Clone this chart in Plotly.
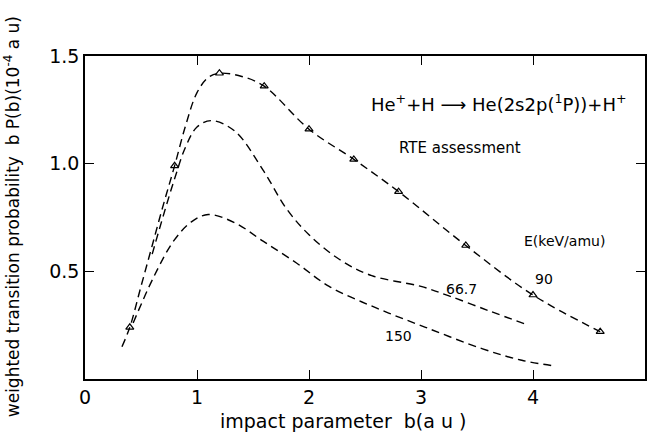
import plotly.graph_objects as go

# ---- data ----
# 90 keV/amu: RTE points (triangles) and the dashed curve through them
b90_pts = [0.4, 0.8, 1.2, 1.6, 2.0, 2.4, 2.8, 3.4, 4.0, 4.6]
p90_pts = [0.24, 0.99, 1.42, 1.36, 1.16, 1.02, 0.87, 0.62, 0.39, 0.22]

b90_curve = [0.33, 0.4, 0.5, 0.6, 0.7, 0.8, 0.9, 1.0, 1.1, 1.2, 1.4, 1.6, 2.0, 2.4, 2.8, 3.4, 4.0, 4.6]
p90_curve = [0.15, 0.24, 0.43, 0.62, 0.81, 0.99, 1.18, 1.33, 1.40, 1.42, 1.405, 1.36, 1.16, 1.02, 0.87, 0.62, 0.39, 0.22]

# 66.7 keV/amu dashed curve
b667 = [0.6, 0.7, 0.8, 0.9, 1.0, 1.13, 1.34, 1.59, 1.8, 2.0, 2.27, 2.56, 3.0, 3.25, 3.61, 3.93]
p667 = [0.58, 0.76, 0.93, 1.08, 1.17, 1.20, 1.15, 0.97, 0.79, 0.67, 0.556, 0.48, 0.43, 0.386, 0.316, 0.255]

# 150 keV/amu dashed curve
b150 = [0.43, 0.61, 0.79, 0.95, 1.1, 1.34, 1.59, 1.885, 2.18, 2.6, 3.04, 3.55, 3.9, 4.2]
p150 = [0.26, 0.47, 0.64, 0.73, 0.764, 0.725, 0.64, 0.54, 0.43, 0.33, 0.24, 0.14, 0.087, 0.06]

x_ticks = [0, 1, 2, 3, 4]
x_ticklabels = ["0", "1", "2", "3", "4"]
y_ticks = [0.5, 1.0, 1.5]
y_ticklabels = ["0.5", "1.0", "1.5"]

energy_labels = ["90", "66.7", "150"]
energy_label_x = [4.10, 3.36, 2.80]
energy_label_y = [0.463, 0.417, 0.199]

FONT = "DejaVu Sans"
DASH = "8px,5px"

fig = go.Figure()

for bx, py in [(b90_curve, p90_curve), (b667, p667), (b150, p150)]:
    fig.add_trace(go.Scatter(
        x=bx, y=py, mode="lines",
        line=dict(color="black", width=1.4, dash=DASH, shape="spline", smoothing=1.0),
        showlegend=False, hoverinfo="skip"))

fig.add_trace(go.Scatter(
    x=b90_pts, y=p90_pts, mode="markers",
    marker=dict(symbol="triangle-up-open", size=7, color="black", line=dict(width=1.2, color="black")),
    showlegend=False))

annotations = [
    dict(x=3.7, y=1.28, xref="x", yref="y", showarrow=False,
         text="He<sup>+</sup>+H \u27f6 He(2s2p(<sup>1</sup>P))+H<sup>+</sup>",
         font=dict(family=FONT, size=18, color="black")),
    dict(x=3.35, y=1.074, xref="x", yref="y", showarrow=False,
         text="RTE assessment", font=dict(family=FONT, size=15, color="black")),
    dict(x=4.28, y=0.64, xref="x", yref="y", showarrow=False,
         text="E(keV/amu)", font=dict(family=FONT, size=14, color="black")),
    dict(x=0.46, y=-0.129, xref="paper", yref="paper", showarrow=False,
         text="impact parameter  b(a u )", font=dict(family=FONT, size=19, color="black"),
         yanchor="middle"),
    dict(x=-0.13, y=0.5015, xref="paper", yref="paper", showarrow=False, textangle=-90,
         text="weighted transition probability  b P(b)(10<sup>-4</sup> a u)",
         font=dict(family=FONT, size=17, color="black"),
         xanchor="center", yanchor="middle"),
]
for t, lx, ly in zip(energy_labels, energy_label_x, energy_label_y):
    annotations.append(dict(x=lx, y=ly, xref="x", yref="y", showarrow=False, text=t,
                            font=dict(family=FONT, size=14, color="black")))

fig.update_layout(
    width=649, height=435,
    margin=dict(l=85, r=2, t=56, b=56),
    paper_bgcolor="white", plot_bgcolor="white",
    font=dict(family=FONT, color="black"),
    annotations=annotations,
    xaxis=dict(range=[0, 5], tickvals=x_ticks, ticktext=x_ticklabels,
               showline=True, linecolor="black", linewidth=1.5, mirror="ticks",
               ticks="inside", ticklen=9, tickwidth=1.2, tickcolor="black",
               showgrid=False, zeroline=False, tickfont=dict(family=FONT, size=19)),
    yaxis=dict(range=[0, 1.5], tickvals=y_ticks, ticktext=y_ticklabels,
               showline=True, linecolor="black", linewidth=1.5, mirror="ticks",
               ticks="inside", ticklen=9, tickwidth=1.2, tickcolor="black",
               showgrid=False, zeroline=False, tickfont=dict(family=FONT, size=19)),
)

fig.write_html("out.html")
